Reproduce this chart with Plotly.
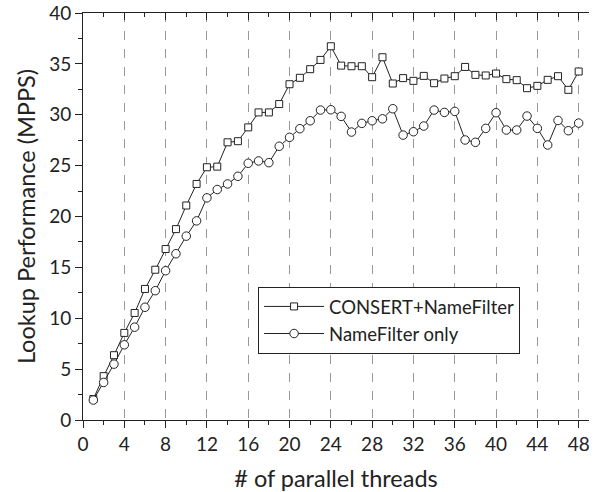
import plotly.graph_objects as go

threads = list(range(1, 49))
consert = [2.06, 4.31, 6.37, 8.56, 10.52, 12.88, 14.77, 16.8, 18.76, 21.08,
           23.2, 24.84, 24.9, 27.29, 27.4, 28.76, 30.23, 30.23, 31.05, 33.0,
           33.63, 34.48, 35.39, 36.73, 34.83, 34.77, 34.77, 33.69, 35.65, 33.07,
           33.6, 33.33, 33.82, 33.1, 33.56, 33.79, 34.7, 33.92, 33.86, 34.05,
           33.5, 33.4, 32.61, 32.84, 33.43, 33.79, 32.45, 34.25]
namefilter = [1.96, 3.69, 5.49, 7.39, 9.12, 11.08, 12.71, 14.67, 16.34, 18.07,
              19.57, 21.83, 22.65, 23.2, 23.95, 25.23, 25.46, 25.29, 26.9, 27.78,
              28.63, 29.41, 30.46, 30.49, 29.84, 28.3, 29.15, 29.41, 29.6, 30.59,
              28.0, 28.33, 28.89, 30.46, 30.23, 30.33, 27.52, 27.29, 28.66, 30.2,
              28.5, 28.5, 29.87, 28.66, 27.03, 29.44, 28.43, 29.18]
x_ticks = list(range(0, 49, 4))
y_ticks = list(range(0, 41, 5))

FONT = "Lato"
LINE = "#222222"

fig = go.Figure()
fig.add_trace(go.Scatter(
    x=threads, y=consert, mode="lines+markers", name="CONSERT+NameFilter",
    line=dict(color=LINE, width=1),
    marker=dict(symbol="square", size=7, color="white", line=dict(color=LINE, width=1)),
))
fig.add_trace(go.Scatter(
    x=threads, y=namefilter, mode="lines+markers", name="NameFilter only",
    line=dict(color=LINE, width=1),
    marker=dict(symbol="circle", size=8.5, color="white", line=dict(color=LINE, width=1)),
))
# invisible trace to anchor the top axis
fig.add_trace(go.Scatter(x=[0], y=[0], xaxis="x2", mode="markers",
                         marker=dict(opacity=0), showlegend=False, hoverinfo="skip"))

fig.update_layout(
    width=604, height=492,
    margin=dict(l=83, r=15, t=13, b=72),
    paper_bgcolor="white", plot_bgcolor="white",
    font=dict(family=FONT, size=19, color="#222222"),
    showlegend=True,
    legend=dict(
        x=0.346, y=0.327, xanchor="left", yanchor="top",
        bgcolor="white", bordercolor="#222222", borderwidth=1,
        font=dict(family=FONT, size=18.5, color="#222222"),
        itemwidth=60, tracegroupgap=0,
    ),
    xaxis=dict(
        range=[0, 49], tickvals=x_ticks, ticks="outside", ticklen=7, tickwidth=1,
        tickcolor="#222222", showline=True, linecolor="#222222", linewidth=1,
        showgrid=True, gridcolor="#999999", griddash="dash", gridwidth=1,
        zeroline=False, automargin=False,
        minor=dict(dtick=2, tick0=0, ticks="outside", ticklen=4, tickcolor="#222222", showgrid=False),
        title=dict(text="# of parallel threads", font=dict(family=FONT, size=23.5), standoff=16),
        tickfont=dict(family=FONT, size=19),
    ),
    xaxis2=dict(
        range=[0, 49], overlaying="x", side="top", anchor="y",
        tickvals=x_ticks, ticks="inside", ticklen=7, tickcolor="#222222",
        showticklabels=False, showline=True, linecolor="#222222", linewidth=1,
        showgrid=False, zeroline=False, automargin=False,
        minor=dict(dtick=2, tick0=0, ticks="inside", ticklen=4, tickcolor="#222222", showgrid=False),
    ),
    yaxis=dict(
        range=[0, 40], tickvals=y_ticks, ticks="outside", ticklen=7, tickwidth=1,
        tickcolor="#222222", showline=True, linecolor="#222222", linewidth=1,
        showgrid=False, zeroline=False, automargin=False,
        minor=dict(dtick=2.5, tick0=0, ticks="outside", ticklen=4, tickcolor="#222222", showgrid=False),
        title=dict(text="Lookup Performance (MPPS)", font=dict(family=FONT, size=23.5), standoff=6),
        tickfont=dict(family=FONT, size=19),
    ),
)

fig.write_html("out.html", config={"displayModeBar": False},
               post_script="document.body.style.margin='0';")
